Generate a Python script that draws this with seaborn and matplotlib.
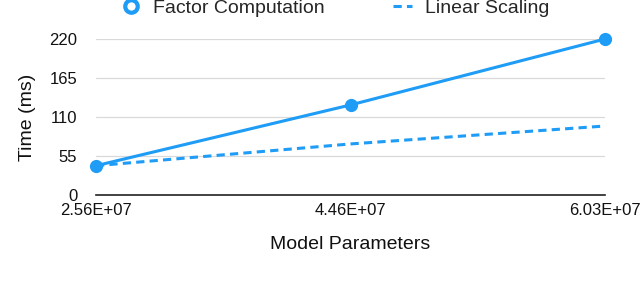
import matplotlib.pyplot as plt
import pandas as pd
import seaborn as sns
from matplotlib.lines import Line2D

# values
model_params = ["2.56E+07", "4.46E+07", "6.03E+07"]
factor_time_ms = [41.3, 127.0, 220.0]
linear_time_ms = [41.3, 72.0, 97.3]
y_ticks = [0, 55, 110, 165, 220]

BLUE = "#1f9cf6"


def build_frame() -> pd.DataFrame:
    return pd.DataFrame(
        {
            "params": model_params,
            "factor": factor_time_ms,
            "linear": linear_time_ms,
        }
    )


def main() -> None:
    sns.set_theme(style="white")
    plt.rcParams["font.family"] = ["Liberation Sans", "DejaVu Sans"]

    df = build_frame()

    fig = plt.figure(figsize=(6.4, 2.84), dpi=100)
    ax = fig.add_axes([96 / 640, 1 - 195 / 284, 509 / 640, 156 / 284])

    sns.lineplot(
        data=df, x="params", y="linear", ax=ax, sort=False,
        color=BLUE, linewidth=2.2, linestyle=(0, (2.7, 1.7)), clip_on=False,
    )
    sns.lineplot(
        data=df, x="params", y="factor", ax=ax, sort=False,
        color=BLUE, linewidth=2.2, marker="o", markersize=9.5,
        markeredgewidth=0, clip_on=False,
    )

    ax.set_xlim(0, 2)
    ax.set_ylim(0, 220)
    ax.set_yticks(y_ticks)
    ax.yaxis.grid(True, color="#d9d9d9", linewidth=0.9)
    ax.xaxis.grid(False)
    for side in ["top", "right", "left"]:
        ax.spines[side].set_visible(False)
    ax.spines["bottom"].set_color("#222222")
    ax.spines["bottom"].set_linewidth(1.2)
    ax.spines["bottom"].set_zorder(3)

    ax.tick_params(axis="y", length=0, pad=13.5, labelsize=12, labelcolor="#111111")
    ax.tick_params(axis="x", length=0, pad=6, labelsize=12, labelcolor="#111111")

    ax.set_xlabel("Model Parameters", fontsize=14, color="#111111")
    ax.set_ylabel("Time (ms)", fontsize=14, color="#111111")
    ax.xaxis.set_label_coords(0.5, -0.26)
    ax.yaxis.set_label_coords(-0.118, 0.5)

    handles = [
        Line2D([], [], color=BLUE, marker="o", markersize=9,
               markerfacecolor="white", markeredgecolor=BLUE,
               markeredgewidth=3, linestyle="none"),
        Line2D([], [], color=BLUE, linewidth=2.2, linestyle=(0, (2.7, 1.7))),
    ]
    fig.legend(
        handles, ["Factor Computation", "Linear Scaling"],
        loc="center", bbox_to_anchor=(335 / 640, 1 - 8 / 284),
        ncol=2, frameon=False, fontsize=14, borderpad=0,
        handlelength=1.0, handletextpad=0.65, columnspacing=3.5,
    )

    fig.savefig("out.png", dpi=100)
    plt.close(fig)


if __name__ == "__main__":
    main()
